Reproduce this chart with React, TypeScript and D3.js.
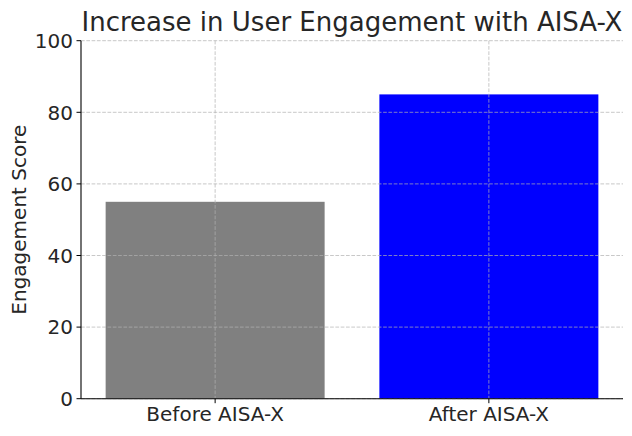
import React from "react";
import * as d3 from "d3";

const categories = ["Before AISA-X", "After AISA-X"];
const values = [55, 85];
const barColors = ["#808080", "#0000ff"];
const yTicks = [0, 20, 40, 60, 80, 100];

const W = 632;
const H = 436;
const m = { left: 81, right: 9, top: 40.7, bottom: 37.3 };

export default function App() {
  const x = d3.scaleLinear().domain([-0.49, 1.49]).range([m.left, W - m.right]);
  const y = d3.scaleLinear().domain([0, 100]).range([H - m.bottom, m.top]);
  const bw = x(0.4) - x(0);
  const font = "DejaVu Sans, sans-serif";
  const grid = { stroke: "#b0b0b0", strokeOpacity: 0.7, strokeWidth: 1, strokeDasharray: "3.7,1.6" };
  return (
    <svg width={W} height={H} style={{ position: "absolute", left: 0, top: 0 }} fontFamily={font}>
      <rect width={W} height={H} fill="#fff" />
      {categories.map((c, i) => (
        <rect key={c} x={x(i) - bw} y={y(values[i])} width={bw * 2} height={y(0) - y(values[i])} fill={barColors[i]} />
      ))}
      {yTicks.map((t) => (
        <line key={"g" + t} x1={m.left} x2={W - m.right} y1={y(t)} y2={y(t)} {...grid} />
      ))}
      {categories.map((c, i) => (
        <line key={"gx" + c} x1={x(i)} x2={x(i)} y1={m.top} y2={H - m.bottom} {...grid} />
      ))}
      <line x1={m.left} x2={m.left} y1={m.top} y2={H - m.bottom} stroke="#000" strokeWidth={1.1} />
      <line x1={m.left} x2={W - m.right} y1={H - m.bottom} y2={H - m.bottom} stroke="#000" strokeWidth={1.1} />
      {yTicks.map((t) => (
        <g key={"t" + t}>
          <line x1={m.left - 4.5} x2={m.left} y1={y(t)} y2={y(t)} stroke="#000" strokeWidth={1} />
          <text x={m.left - 8} y={y(t)} dy="0.36em" textAnchor="end" fontSize={20} fill="#262626">{t}</text>
        </g>
      ))}
      {categories.map((c, i) => (
        <g key={"xt" + c}>
          <line x1={x(i)} x2={x(i)} y1={H - m.bottom} y2={H - m.bottom + 4.5} stroke="#000" strokeWidth={1} />
          <text x={x(i)} y={H - m.bottom + 22} textAnchor="middle" fontSize={20} fill="#262626">{c}</text>
        </g>
      ))}
      <text transform={`translate(26,${(m.top + H - m.bottom) / 2}) rotate(-90)`} textAnchor="middle" fontSize={20} fill="#262626">Engagement Score</text>
      <text x={(m.left + W - m.right) / 2} y={31} textAnchor="middle" fontSize={26} fill="#262626">Increase in User Engagement with AISA-X</text>
    </svg>
  );
}
